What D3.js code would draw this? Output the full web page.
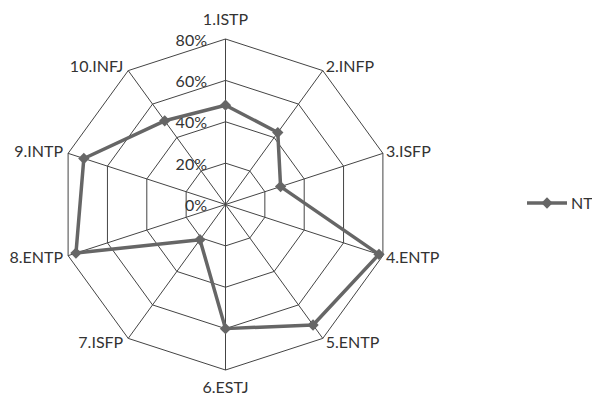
<!DOCTYPE html>
<html>
<head>
<meta charset="utf-8">
<script src="https://cdn.jsdelivr.net/npm/d3@7"></script>
<style>
  html, body { margin: 0; padding: 0; background: #fff; }
  svg { display: block; }
  text { font-family: Lato, "Open Sans", "Liberation Sans", sans-serif; fill: #333; }
</style>
</head>
<body>
<svg id="chart" width="592" height="398"></svg>
<script>
// Radar chart: NT share per item
const categories = ["1.ISTP", "2.INFP", "3.ISFP", "4.ENTP", "5.ENTP",
                    "6.ESTJ", "7.ISFP", "8.ENTP", "9.INTP", "10.INFJ"];
const ntValues = [48, 43, 28, 78, 72, 60, 21, 76, 72, 50];
const tickValues = [0, 20, 40, 60, 80];
const seriesName = "NT";

const svg = d3.select("#chart");
const cx = 225.5, cy = 204.5, outerR = 165.5;
const fontSize = 16;
const seriesColor = "#666";

const r = d3.scaleLinear().domain([0, 80]).range([0, outerR]);
const angle = d3.scalePoint().domain(categories)
  .range([0, 2 * Math.PI * (categories.length - 1) / categories.length]);

function pt(cat, v) {
  const a = angle(cat);
  return [cx + r(v) * Math.sin(a), cy - r(v) * Math.cos(a)];
}

const g = svg.append("g");

// grid rings
tickValues.filter(t => t > 0).forEach(t => {
  g.append("polygon")
    .attr("points", categories.map(c => pt(c, t).join(",")).join(" "))
    .attr("fill", "none")
    .attr("stroke", "#444")
    .attr("stroke-width", 1);
});

// spokes
categories.forEach(c => {
  const [x, y] = pt(c, 80);
  g.append("line")
    .attr("x1", cx).attr("y1", cy).attr("x2", x).attr("y2", y)
    .attr("stroke", "#444").attr("stroke-width", 1);
});

// tick labels along the top axis
g.selectAll(".tick")
  .data(tickValues)
  .join("text")
  .attr("class", "tick")
  .attr("x", cx - 18.5)
  .attr("y", t => cy - r(t) + 6.5)
  .attr("text-anchor", "end")
  .attr("font-size", fontSize)
  .text(t => t + "%");

// category labels
categories.forEach(c => {
  const a = angle(c);
  const [x, y] = pt(c, 80);
  const s = Math.sin(a), co = Math.cos(a);
  let anchor = "middle", dx = 0, by;
  if (Math.abs(s) <= 0.1) {
    by = co > 0 ? -14 : 22.5;
  } else {
    anchor = s > 0 ? "start" : "end";
    dx = s > 0 ? 3 : -5;
    by = 5.5 - 5.5 * co;
  }
  g.append("text")
    .attr("x", x + dx)
    .attr("y", y + by)
    .attr("text-anchor", anchor)
    .attr("font-size", fontSize)
    .text(c);
});

// series line
const line = d3.line().curve(d3.curveLinearClosed);
g.append("path")
  .attr("d", line(categories.map((c, i) => pt(c, ntValues[i]))))
  .attr("fill", "none")
  .attr("stroke", seriesColor)
  .attr("stroke-width", 3.5)
  .attr("stroke-linejoin", "round");

// diamond markers (a square turned 45 degrees)
const marker = d3.symbol().type(d3.symbolSquare).size(64);
g.selectAll(".pt")
  .data(categories.map((c, i) => pt(c, ntValues[i])))
  .join("path")
  .attr("class", "pt")
  .attr("transform", d => `translate(${d[0]},${d[1]}) rotate(45)`)
  .attr("d", marker)
  .attr("fill", seriesColor);

// legend
const lg = svg.append("g").attr("transform", "translate(527,203)");
lg.append("line").attr("x1", 0).attr("x2", 40).attr("y1", 0).attr("y2", 0)
  .attr("stroke", seriesColor).attr("stroke-width", 3.5);
lg.append("path").attr("transform", "translate(20,0) rotate(45)").attr("d", marker).attr("fill", seriesColor);
lg.append("text").attr("x", 44).attr("y", 6).attr("font-size", fontSize).text(seriesName);
</script>
</body>
</html>
